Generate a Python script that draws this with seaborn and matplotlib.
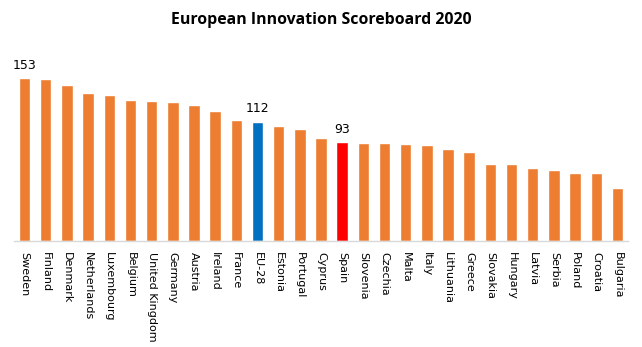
import matplotlib
matplotlib.use("Agg")
import matplotlib.pyplot as plt
import seaborn as sns
import pandas as pd

countries = ["Sweden", "Finland", "Denmark", "Netherlands", "Luxembourg", "Belgium",
             "United Kingdom", "Germany", "Austria", "Ireland", "France", "EU-28",
             "Estonia", "Portugal", "Cyprus", "Spain", "Slovenia", "Czechia", "Malta",
             "Italy", "Lithuania", "Greece", "Slovakia", "Hungary", "Latvia", "Serbia",
             "Poland", "Croatia", "Bulgaria"]
scores = [153, 152, 146.7, 139.3, 137.4, 132.4, 131.5, 130.5, 127.7, 122, 113.6, 112,
          108, 105, 96.7, 93, 92, 92, 91, 90, 86.4, 83.6, 72.3, 72.3, 68.5, 66.7,
          63.8, 63.8, 49.8]
labelled = {"Sweden": "153", "EU-28": "112", "Spain": "93"}

base_color = "#ED7D31"
highlight = {"EU-28": "#0070C0", "Spain": "#FF0000"}
palette = {c: highlight.get(c, base_color) for c in countries}

df = pd.DataFrame({"country": countries, "score": scores})

sns.set_style("white")
plt.rcParams["font.family"] = ["DejaVu Sans"]

fig = plt.figure(figsize=(6.42, 3.47), dpi=100)
ax = fig.add_axes([14/642, 106/347, 614/642, 191/347])
sns.barplot(data=df, x="country", y="score", hue="country", palette=palette,
            legend=False, width=0.54, saturation=1, ax=ax)

ax.set_xlim(-0.5, len(countries) - 0.5)
ax.set_ylim(0, 179.3)
ax.set_xlabel("")
ax.set_ylabel("")
ax.set_yticks([])
for s in ["top", "right", "left"]:
    ax.spines[s].set_visible(False)
ax.spines["bottom"].set_color("#D9D9D9")
ax.spines["bottom"].set_linewidth(1)
ax.tick_params(axis="x", length=0, pad=8)
ax.set_xticks(range(len(countries)))
ax.set_xticklabels(countries, rotation=270, fontsize=8, color="#000000",
                   ha="center", va="top")

for i, (c, v) in enumerate(zip(countries, scores)):
    if c in labelled:
        ax.text(i, v + 6, labelled[c], ha="center", va="bottom", fontsize=9,
                color="#000000")

fig.text(0.5, 1 - 20/347, "European Innovation Scoreboard 2020", ha="center",
         va="center", fontsize=11.4, fontweight="bold", color="#000000",
         family=["Open Sans", "DejaVu Sans"])

fig.savefig("out.png", dpi=100)
